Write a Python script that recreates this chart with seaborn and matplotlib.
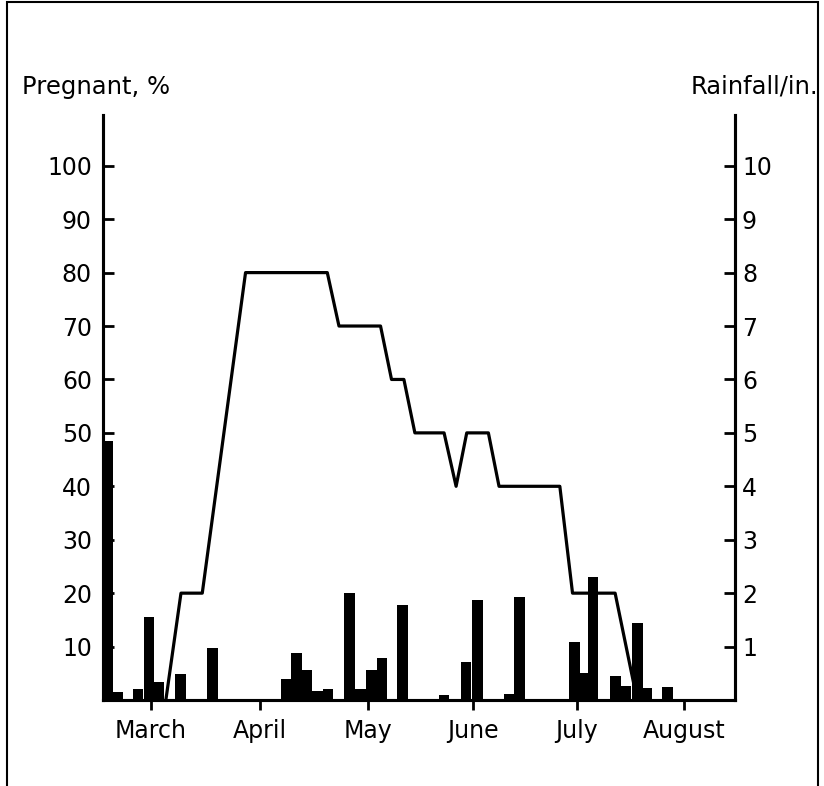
import matplotlib
matplotlib.use("Agg")
import matplotlib.pyplot as plt
from matplotlib.patches import Rectangle
import seaborn as sns
import pandas as pd

# x axis: days since 1 March
months = ["March", "April", "May", "June", "July", "August"]
month_pos = [14.0, 45.7, 77.1, 107.7, 138.0, 169.1]

# Pregnant, % (line)
preg_day = [18.3, 22.7, 28.9, 41.5, 65.3, 68.7, 80.8, 84.0, 87.6, 90.8,
            99.3, 102.8, 105.9, 112.2, 115.3, 133.0, 136.7, 149.1, 155.5]
preg_pct = [0, 20, 20, 80, 80, 70, 70, 60, 60, 50,
            50, 40, 50, 50, 40, 40, 20, 20, 0]

# Rainfall, inches (bars)
rain_day = [1.4, 4.2, 10.2, 13.4, 16.3, 22.5, 31.8, 53.3, 56.4, 59.4,
            62.5, 65.5, 71.7, 74.9, 78.1, 81.2, 87.2, 99.3, 105.7, 109.0,
            118.3, 121.2, 137.2, 140.0, 142.7, 149.3, 152.3, 155.7, 158.3, 164.4]
rain_in = [4.85, 0.15, 0.2, 1.56, 0.33, 0.48, 0.98, 0.39, 0.88, 0.56,
           0.17, 0.2, 2.0, 0.2, 0.56, 0.78, 1.78, 0.1, 0.72, 1.88,
           0.11, 1.93, 1.09, 0.5, 2.3, 0.45, 0.27, 1.45, 0.23, 0.24]

sns.set_style("ticks")
plt.rcParams['font.family'] = ['DejaVu Sans']
plt.rcParams['text.color'] = 'black'

fig = plt.figure(figsize=(8.24, 7.86), dpi=100)
ax = fig.add_axes([103 / 824, 1 - 700 / 786, (735 - 103) / 824, (700 - 115) / 786])
ax2 = ax.twinx()

ax2.bar(rain_day, rain_in, width=3.1, color="black", linewidth=0, align="center")

df = pd.DataFrame({"day": preg_day, "pct": preg_pct})
sns.lineplot(data=df, x="day", y="pct", ax=ax, color="black", linewidth=2.3,
             sort=False, estimator=None)

ax.set_zorder(ax2.get_zorder() + 1)
ax.patch.set_visible(False)

ax.set_xlim(0, 184)
ax.set_ylim(0, 109.5)
ax2.set_ylim(0, 10.95)

for a in (ax, ax2):
    a.spines["top"].set_visible(False)
    for s in ("left", "right", "bottom"):
        a.spines[s].set_visible(True)
        a.spines[s].set_linewidth(2.2)
        a.spines[s].set_color("black")

ax.set_yticks(range(10, 101, 10))
ax.tick_params(axis="y", direction="in", length=8, width=2, pad=8, labelsize=17, colors="black")
ax2.set_yticks(range(1, 11))
ax2.tick_params(axis="y", direction="in", length=8, width=2, pad=5, labelsize=17, colors="black")
ax.set_xticks(month_pos)
ax.set_xticklabels(months)
ax.tick_params(axis="x", direction="out", length=7, width=2, pad=7, labelsize=17, colors="black")
ax.set_xlabel("")
ax.set_ylabel("")

fig.text(22 / 824, 1 - 87 / 786, "Pregnant, %", ha="left", va="center", fontsize=17.5, color="black")
fig.text(818 / 824, 1 - 87 / 786, "Rainfall/in.", ha="right", va="center", fontsize=17.5, color="black")

fig.add_artist(Rectangle((7 / 824, -0.01), (818 - 7) / 824, 1.01 - 2 / 786,
                         transform=fig.transFigure, fill=False, lw=1.5, edgecolor="black"))

fig.savefig("out.png", dpi=100)
